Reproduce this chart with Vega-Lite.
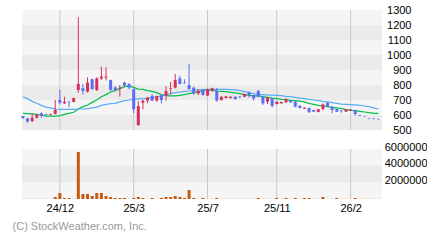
{
 "$schema": "https://vega.github.io/schema/vega-lite/v6.json",
 "padding": {"left": 12, "top": 4, "right": 0, "bottom": 0},
 "background": "white",
 "spacing": 6,
 "config": {
  "view": {"stroke": null, "fill": "#f5f5f5"},
  "axis": {"labelFont": "Liberation Sans", "labelFontSize": 11, "labelColor": "#000000", "labelOverlap": false}
 },
 "title": {"text": "(C) StockWeather.com, Inc.", "orient": "bottom", "anchor": "start", "dx": -8, "offset": 8, "font": "Liberation Sans", "fontSize": 11, "fontWeight": "normal", "color": "#999999"},
 "datasets": {
  "w": [
   {"i":0,"o":593,"h":593,"l":576,"c":578,"v":15000,"m1":611,"m2":722},
   {"i":1,"o":578,"h":580,"l":549,"c":556,"v":15000,"m1":609,"m2":709},
   {"i":2,"o":560,"h":611,"l":553,"c":582,"v":15000,"m1":607,"m2":691},
   {"i":3,"o":582,"h":606,"l":576,"c":604,"v":15000,"m1":604,"m2":678},
   {"i":4,"o":611,"h":618,"l":582,"c":593,"v":15000,"m1":600,"m2":664},
   {"i":5,"o":607,"h":609,"l":600,"c":602,"v":15000,"m1":593,"m2":653},
   {"i":6,"o":602,"h":609,"l":598,"c":607,"v":15000,"m1":593,"m2":647},
   {"i":7,"o":607,"h":700,"l":604,"c":633,"v":240000,"m1":593,"m2":640},
   {"i":8,"o":700,"h":767,"l":671,"c":682,"v":720000,"m1":596,"m2":638},
   {"i":9,"o":678,"h":722,"l":673,"c":687,"v":120000,"m1":604,"m2":638},
   {"i":10,"o":689,"h":691,"l":651,"c":685,"v":120000,"m1":611,"m2":638},
   {"i":11,"o":687,"h":716,"l":684,"c":713,"v":15000,"m1":618,"m2":638},
   {"i":12,"o":767,"h":1253,"l":749,"c":807,"v":5640000,"m1":640,"m2":640},
   {"i":13,"o":778,"h":807,"l":738,"c":760,"v":600000,"m1":656,"m2":640},
   {"i":14,"o":756,"h":851,"l":749,"c":816,"v":600000,"m1":667,"m2":642},
   {"i":15,"o":838,"h":842,"l":769,"c":773,"v":360000,"m1":684,"m2":647},
   {"i":16,"o":767,"h":851,"l":760,"c":844,"v":720000,"m1":700,"m2":653},
   {"i":17,"o":844,"h":922,"l":833,"c":856,"v":720000,"m1":722,"m2":664},
   {"i":18,"o":849,"h":918,"l":829,"c":856,"v":360000,"m1":736,"m2":671},
   {"i":19,"o":833,"h":836,"l":760,"c":767,"v":240000,"m1":753,"m2":676},
   {"i":20,"o":784,"h":793,"l":756,"c":767,"v":120000,"m1":764,"m2":678},
   {"i":21,"o":776,"h":800,"l":722,"c":782,"v":120000,"m1":776,"m2":687},
   {"i":22,"o":816,"h":822,"l":789,"c":796,"v":120000,"m1":789,"m2":696},
   {"i":23,"o":807,"h":811,"l":771,"c":784,"v":15000,"m1":793,"m2":700},
   {"i":24,"o":773,"h":776,"l":611,"c":638,"v":120000,"m1":784,"m2":704},
   {"i":25,"o":533,"h":693,"l":527,"c":660,"v":240000,"m1":773,"m2":707},
   {"i":26,"o":682,"h":700,"l":638,"c":696,"v":120000,"m1":771,"m2":709},
   {"i":27,"o":696,"h":718,"l":678,"c":716,"v":15000,"m1":762,"m2":711},
   {"i":28,"o":727,"h":740,"l":693,"c":696,"v":120000,"m1":758,"m2":716},
   {"i":29,"o":696,"h":729,"l":689,"c":727,"v":15000,"m1":749,"m2":720},
   {"i":30,"o":731,"h":733,"l":678,"c":700,"v":120000,"m1":736,"m2":727},
   {"i":31,"o":727,"h":793,"l":696,"c":760,"v":240000,"m1":729,"m2":736},
   {"i":32,"o":776,"h":820,"l":738,"c":780,"v":240000,"m1":727,"m2":742},
   {"i":33,"o":782,"h":873,"l":778,"c":833,"v":360000,"m1":727,"m2":749},
   {"i":34,"o":844,"h":860,"l":804,"c":807,"v":240000,"m1":731,"m2":753},
   {"i":35,"o":816,"h":838,"l":809,"c":811,"v":120000,"m1":736,"m2":758},
   {"i":36,"o":800,"h":940,"l":769,"c":773,"v":1080000,"m1":742,"m2":760},
   {"i":37,"o":782,"h":787,"l":733,"c":744,"v":120000,"m1":749,"m2":764},
   {"i":38,"o":744,"h":773,"l":733,"c":762,"v":15000,"m1":753,"m2":767},
   {"i":39,"o":769,"h":773,"l":729,"c":733,"v":120000,"m1":762,"m2":769},
   {"i":40,"o":729,"h":776,"l":727,"c":771,"v":15000,"m1":767,"m2":771},
   {"i":41,"o":760,"h":782,"l":756,"c":778,"v":15000,"m1":764,"m2":771},
   {"i":42,"o":762,"h":780,"l":689,"c":696,"v":120000,"m1":760,"m2":771},
   {"i":43,"o":700,"h":724,"l":696,"c":722,"v":15000,"m1":758,"m2":771},
   {"i":44,"o":713,"h":727,"l":711,"c":724,"v":15000,"m1":756,"m2":771},
   {"i":45,"o":713,"h":724,"l":709,"c":722,"v":15000,"m1":751,"m2":769},
   {"i":46,"o":722,"h":724,"l":700,"c":707,"v":15000,"m1":747,"m2":767},
   {"i":47,"o":722,"h":727,"l":713,"c":718,"v":15000,"m1":742,"m2":762},
   {"i":48,"o":722,"h":742,"l":718,"c":740,"v":15000,"m1":736,"m2":756},
   {"i":49,"o":751,"h":758,"l":716,"c":731,"v":15000,"m1":731,"m2":747},
   {"i":50,"o":733,"h":736,"l":696,"c":711,"v":15000,"m1":727,"m2":742},
   {"i":51,"o":762,"h":764,"l":718,"c":722,"v":120000,"m1":727,"m2":738},
   {"i":52,"o":722,"h":724,"l":667,"c":678,"v":15000,"m1":722,"m2":736},
   {"i":53,"o":689,"h":720,"l":673,"c":718,"v":15000,"m1":718,"m2":733},
   {"i":54,"o":711,"h":713,"l":651,"c":660,"v":15000,"m1":713,"m2":733},
   {"i":55,"o":673,"h":691,"l":671,"c":689,"v":120000,"m1":709,"m2":731},
   {"i":56,"o":678,"h":689,"l":676,"c":687,"v":15000,"m1":704,"m2":729},
   {"i":57,"o":684,"h":713,"l":682,"c":704,"v":120000,"m1":702,"m2":724},
   {"i":58,"o":696,"h":700,"l":682,"c":684,"v":15000,"m1":698,"m2":722},
   {"i":59,"o":689,"h":691,"l":651,"c":656,"v":120000,"m1":696,"m2":718},
   {"i":60,"o":662,"h":664,"l":644,"c":647,"v":15000,"m1":693,"m2":713},
   {"i":61,"o":642,"h":651,"l":640,"c":649,"v":120000,"m1":687,"m2":709},
   {"i":62,"o":647,"h":649,"l":616,"c":618,"v":120000,"m1":678,"m2":704},
   {"i":63,"o":633,"h":636,"l":620,"c":622,"v":15000,"m1":671,"m2":700},
   {"i":64,"o":620,"h":640,"l":618,"c":638,"v":15000,"m1":664,"m2":696},
   {"i":65,"o":640,"h":678,"l":633,"c":671,"v":240000,"m1":660,"m2":691},
   {"i":66,"o":682,"h":684,"l":653,"c":656,"v":15000,"m1":656,"m2":687},
   {"i":67,"o":656,"h":658,"l":611,"c":633,"v":15000,"m1":651,"m2":682},
   {"i":68,"o":640,"h":642,"l":620,"c":622,"v":120000,"m1":647,"m2":678},
   {"i":69,"o":629,"h":633,"l":616,"c":625,"v":15000,"m1":642,"m2":673},
   {"i":70,"o":622,"h":640,"l":620,"c":638,"v":15000,"m1":636,"m2":671},
   {"i":71,"o":631,"h":640,"l":629,"c":638,"v":15000,"m1":631,"m2":669},
   {"i":72,"o":633,"h":636,"l":596,"c":607,"v":120000,"m1":629,"m2":667},
   {"i":73,"o":600,"h":602,"l":593,"c":596,"v":15000,"m1":624,"m2":664},
   {"i":74,"o":593,"h":596,"l":589,"c":591,"v":15000,"m1":620,"m2":660},
   {"i":75,"o":578,"h":580,"l":573,"c":576,"v":15000,"m1":616,"m2":656},
   {"i":76,"o":576,"h":578,"l":571,"c":573,"v":15000,"m1":611,"m2":647},
   {"i":77,"o":573,"h":576,"l":569,"c":571,"v":15000,"m1":611,"m2":640}
  ],
  "bp": [{"lo":500,"hi":600},{"lo":700,"hi":800},{"lo":900,"hi":1000},{"lo":1100,"hi":1200}],
  "bv": [{"lo":2000000,"hi":4000000}],
  "g": [{"i":8,"t":"24/12"},{"i":24,"t":"25/3"},{"i":40,"t":"25/7"},{"i":55,"t":"25/11"},{"i":71,"t":"26/2"}]
 },
 "vconcat": [
  {
   "width": 360,
   "height": 120,
   "layer": [
    {
     "data": {"name": "bp"},
     "mark": {"type": "rect", "color": "#ebebeb"},
     "encoding": {
      "y": {"field": "lo", "type": "quantitative", "scale": {"domain": [500, 1300], "nice": false, "zero": false, "padding": 0},
            "axis": {"orient": "right", "values": [500,600,700,800,900,1000,1100,1200,1300], "format": "d", "title": null, "grid": false, "ticks": false, "tickSize": 0, "domain": false, "labelAlign": "right", "labelPadding": 29, "labelBaseline": "middle", "labelOverlap": false}},
      "y2": {"field": "hi"}
     }
    },
    {
     "data": {"name": "g"},
     "mark": {"type": "rule", "color": "#c8c8c8", "strokeWidth": 1},
     "encoding": {
      "x": {"field": "i", "type": "quantitative", "scale": {"domain": [-0.2, 77.8], "nice": false, "zero": false, "padding": 0}, "axis": null}
     }
    },
    {
     "data": {"name": "w"},
     "mark": {"type": "line", "color": "#00c04b", "strokeWidth": 1.2},
     "encoding": {
      "x": {"field": "i", "type": "quantitative"},
      "y": {"field": "m1", "type": "quantitative",
            "axis": {"orient": "right", "values": [500,600,700,800,900,1000,1100,1200,1300], "format": "d", "title": null, "grid": false, "ticks": false, "tickSize": 0, "domain": false, "labelAlign": "right", "labelPadding": 29, "labelBaseline": "middle", "labelOverlap": false}}
     }
    },
    {
     "data": {"name": "w"},
     "mark": {"type": "line", "color": "#5aacf5", "strokeWidth": 1.2},
     "encoding": {
      "x": {"field": "i", "type": "quantitative"},
      "y": {"field": "m2", "type": "quantitative",
            "axis": {"orient": "right", "values": [500,600,700,800,900,1000,1100,1200,1300], "format": "d", "title": null, "grid": false, "ticks": false, "tickSize": 0, "domain": false, "labelAlign": "right", "labelPadding": 29, "labelBaseline": "middle", "labelOverlap": false}}
     }
    },
    {
     "data": {"name": "w"},
     "mark": {"type": "rule", "strokeWidth": 1},
     "encoding": {
      "x": {"field": "i", "type": "quantitative"},
      "y": {"field": "l", "type": "quantitative",
            "axis": {"orient": "right", "values": [500,600,700,800,900,1000,1100,1200,1300], "format": "d", "title": null, "grid": false, "ticks": false, "tickSize": 0, "domain": false, "labelAlign": "right", "labelPadding": 29, "labelBaseline": "middle", "labelOverlap": false}},
      "y2": {"field": "h"},
      "color": {"condition": {"test": "datum.c >= datum.o", "value": "#d7305a"}, "value": "#5b6cf5"}
     }
    },
    {
     "data": {"name": "w"},
     "mark": {"type": "bar", "size": 3},
     "encoding": {
      "x": {"field": "i", "type": "quantitative"},
      "y": {"field": "o", "type": "quantitative",
            "axis": {"orient": "right", "values": [500,600,700,800,900,1000,1100,1200,1300], "format": "d", "title": null, "grid": false, "ticks": false, "tickSize": 0, "domain": false, "labelAlign": "right", "labelPadding": 29, "labelBaseline": "middle", "labelOverlap": false}},
      "y2": {"field": "c"},
      "color": {"condition": {"test": "datum.c >= datum.o", "value": "#d7305a"}, "value": "#5b6cf5"}
     }
    }
   ]
  },
  {
   "width": 360,
   "height": 50,
   "layer": [
    {
     "data": {"name": "bv"},
     "mark": {"type": "rect", "color": "#ebebeb"},
     "encoding": {
      "y": {"field": "lo", "type": "quantitative", "scale": {"domain": [0, 6000000], "nice": false, "padding": 0},
            "axis": {"orient": "right", "values": [2000000, 4000000, 6000000], "format": "d", "title": null, "grid": false, "ticks": false, "tickSize": 0, "domain": false, "labelAlign": "right", "labelPadding": 45, "labelBaseline": "middle", "labelOffset": -2, "labelOverlap": false}},
      "y2": {"field": "hi"}
     }
    },
    {
     "data": {"name": "g"},
     "mark": {"type": "rule", "color": "#c8c8c8", "strokeWidth": 1},
     "encoding": {
      "x": {"field": "i", "type": "quantitative", "scale": {"domain": [-0.2, 77.8], "nice": false, "zero": false, "padding": 0},
            "axis": {"orient": "bottom", "values": [8, 24, 40, 55, 71], "labelExpr": "datum.value == 8 ? '24/12' : datum.value == 24 ? '25/3' : datum.value == 40 ? '25/7' : datum.value == 55 ? '25/11' : '26/2'", "title": null, "grid": false, "ticks": false, "tickSize": 0, "domain": false, "labelPadding": 3, "labelOverlap": false}}
     }
    },
    {
     "data": {"name": "w"},
     "mark": {"type": "bar", "size": 3, "color": "#c55a11"},
     "encoding": {
      "x": {"field": "i", "type": "quantitative",
            "axis": {"orient": "bottom", "values": [8, 24, 40, 55, 71], "labelExpr": "datum.value == 8 ? '24/12' : datum.value == 24 ? '25/3' : datum.value == 40 ? '25/7' : datum.value == 55 ? '25/11' : '26/2'", "title": null, "grid": false, "ticks": false, "tickSize": 0, "domain": false, "labelPadding": 3, "labelOverlap": false}},
      "y": {"field": "v", "type": "quantitative",
            "axis": {"orient": "right", "values": [2000000, 4000000, 6000000], "format": "d", "title": null, "grid": false, "ticks": false, "tickSize": 0, "domain": false, "labelAlign": "right", "labelPadding": 45, "labelBaseline": "middle", "labelOffset": -2, "labelOverlap": false}}
     }
    }
   ]
  }
 ]
}
